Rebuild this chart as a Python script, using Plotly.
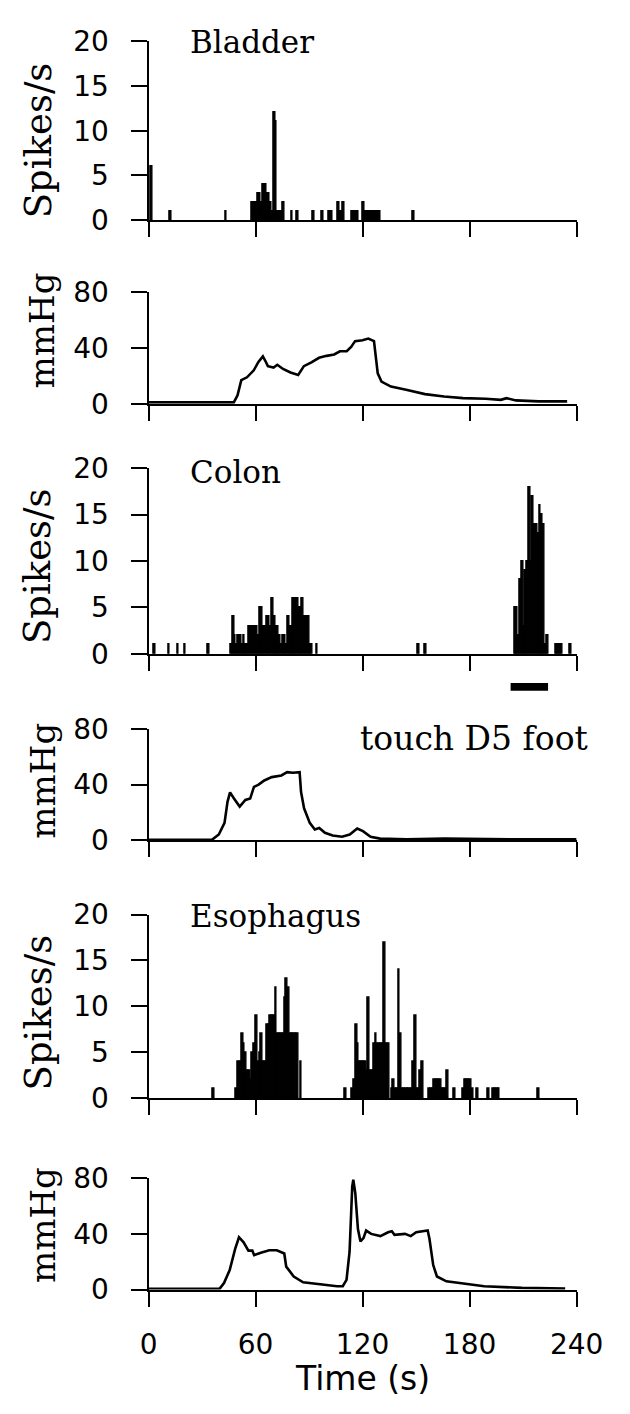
import plotly.graph_objects as go

# ---------------- data ----------------
# spike histograms: 1-s bins (bin start time in s) and spike counts
bladder_bin = [1, 12, 43, 58, 59, 60, 61, 62, 63, 64, 65, 66, 67, 68, 69, 70, 71, 72, 73, 74, 75,
               80, 83, 92, 97, 101, 102, 106, 107, 108, 109, 114, 115, 116, 117,
               120, 121, 122, 123, 124, 125, 126, 127, 128, 129, 148]
bladder_cnt = [6, 1, 1, 2, 2, 2, 3, 3, 2, 4, 4, 3, 3, 2, 1, 12, 11, 1, 1, 1, 2,
               1, 1, 1, 1, 1, 1, 2, 1, 1, 2, 1, 1, 1, 1,
               2, 1, 1, 1, 1, 1, 1, 1, 1, 1, 1]

colon_bin = [3, 11, 16, 20, 33,
             46, 47, 48, 49, 50, 51, 52, 53, 54, 55, 56, 57, 58, 59, 60, 61, 62, 63, 64, 65, 66, 67, 68,
             69, 70, 71, 72, 73, 74, 75, 76, 77, 78, 79, 80, 81, 82, 83, 84, 85, 86, 87, 88, 89, 90, 91,
             94, 151, 155,
             205, 206, 207, 208, 209, 210, 211, 212, 213, 214, 215, 216, 217, 218, 219, 220, 221, 222, 223,
             228, 229, 230, 231, 236]
colon_cnt = [1, 1, 1, 1, 1,
             1, 4, 2, 1, 2, 2, 1, 2, 1, 1, 3, 3, 3, 3, 3, 2, 5, 5, 3, 3, 4, 4, 3,
             6, 4, 3, 3, 2, 1, 2, 2, 1, 4, 3, 3, 6, 6, 6, 5, 5, 6, 4, 4, 4, 1, 1,
             1, 1, 1,
             5, 5, 2, 8, 10, 3, 9, 10, 18, 10, 17, 14, 14, 13, 16, 15, 14, 1, 2,
             1, 1, 1, 1, 1]

esoph_bin = [36,
             49, 50, 51, 52, 53, 54, 55, 56, 57, 58, 59, 60, 61, 62, 63, 64, 65, 66, 67, 68, 69, 70,
             71, 72, 73, 74, 75, 76, 77, 78, 79, 80, 81, 82, 83, 85,
             110,
             114, 115, 116, 117, 118, 119, 120, 121, 122, 123, 124, 125, 126, 127, 128, 129, 130, 131,
             132, 133, 134, 136, 137, 138, 139, 140, 141, 142, 143, 144, 145, 146, 147, 148, 149, 150,
             151, 152, 153, 157, 158, 159, 160, 161, 162, 163, 164, 165, 166, 167, 171, 176, 177, 178,
             179, 180, 181, 184, 190, 193, 194, 195, 196, 218]
esoph_cnt = [1,
             1, 4, 4, 7, 6, 5, 3, 3, 2, 5, 6, 9, 4, 5, 7, 4, 4, 8, 8, 9, 9, 9,
             12, 7, 7, 7, 7, 11, 13, 12, 7, 7, 7, 7, 7, 4,
             1,
             1, 2, 8, 6, 4, 4, 4, 4, 3, 11, 3, 3, 6, 7, 6, 6, 6, 6,
             17, 6, 6, 1, 2, 1, 1, 14, 7, 1, 1, 1, 1, 1, 1, 4, 9, 1,
             1, 3, 4, 1, 1, 1, 2, 2, 2, 2, 1, 1, 1, 3, 1, 1, 2, 2,
             2, 2, 1, 1, 1, 1, 1, 1, 1, 1]

# pressure traces (time s, mmHg)
bladder_p_t = [0, 47.8, 49.9, 52, 55.2, 59, 61.6, 64.1, 65.8, 66.9, 70.1, 72.2, 75.4, 79.6, 83.9,
               87.1, 91.3, 95.6, 99.8, 104.1, 107.3, 111.1, 113.6, 115.8, 120, 123.2, 126.4, 127.4,
               128.5, 130.6, 135.9, 144.4, 155, 165.7, 176.3, 189, 197.5, 200.7, 206, 218.8, 234.7]
bladder_p = [1, 1, 6, 17, 19, 24, 30, 34, 30, 27, 26, 28, 25, 22.5, 20.7,
             27, 29.7, 33, 34.4, 35.4, 37.7, 37.7, 40.8, 45, 45.6, 46.8, 45, 32.5,
             21.8, 15.9, 12.3, 10, 6.9, 5.2, 4, 3.6, 2.8, 4, 2.4, 1.7, 1.7]

colon_p_t = [0, 35.5, 39.4, 42.6, 44.3, 45.7, 47.9, 51.1, 54.3, 57, 59.1, 61.7, 64.9, 69.1, 74.5,
             77.7, 80.9, 84.7, 85.5, 87.2, 90.4, 93.2, 95.7, 98.9, 103.2, 108.5, 112.8, 117, 120.2,
             124.5, 129.8, 144.7, 166, 187.2, 208.5, 240]
colon_p = [0.3, 0.3, 4.2, 12.5, 27.8, 34.4, 30, 24.2, 29, 30, 38.4, 40, 43, 45.4, 46.6,
           49, 48.5, 49, 34.8, 23, 12.5, 7.8, 8.9, 5.4, 3.5, 2.6, 4.2, 8.5, 6.6,
           2.6, 1.2, 0.7, 1.2, 0.7, 0.7, 0.7]

esoph_p_t = [0, 39.8, 42.3, 45.5, 48.6, 50.7, 53.3, 56, 58.2, 59.2, 63.4, 67.7, 71.9, 76.1, 77.2,
             81.4, 86.7, 93, 99.4, 105.7, 108.9, 111, 112.7, 114.2, 114.8, 115.9, 117.4, 118.8, 120.5,
             122, 124.8, 130, 134.3, 136.4, 137.9, 143.8, 147, 150.1, 156.5, 157.5, 159.6, 161.7, 167,
             177.6, 188.2, 209.3, 233.6]
esoph_p = [0.5, 0.5, 4.7, 14, 29.4, 37.6, 34, 28, 28, 24.7, 26.6, 28.2, 28.2, 25.9, 16.5,
           9.4, 5.2, 4.2, 3.5, 2.4, 2.4, 7, 27, 74, 79, 69.4, 43.5, 34.6, 37,
           42.4, 40, 38.4, 41.2, 41.9, 39.3, 40, 38.4, 41.2, 42.4, 36.5, 17.6, 9.4, 5.9,
           4.2, 2.4, 1.2, 0.7]

stim_on, stim_off = 203, 224          # touch D5 foot (s)
spike_ticks = [0, 5, 10, 15, 20]
mmhg_ticks = [0, 40, 80]
time_ticks = [0, 60, 120, 180, 240]
organs = ["Bladder", "Colon", "Esophagus"]

# ---------------- layout geometry ----------------
W, H = 630, 1414
X0, X1 = 148, 602
# (top px, bottom px) for each panel
panels = [(26, 209), (283, 397), (463, 653), (730, 844), (920, 1108), (1190, 1304)]

def fy(px):
    return 1 - px / H

fig = go.Figure()

spike_sets = [(bladder_bin, bladder_cnt), (colon_bin, colon_cnt), (esoph_bin, esoph_cnt)]
press_sets = [(bladder_p_t, bladder_p), (colon_p_t, colon_p), (esoph_p_t, esoph_p)]

for k in range(3):
    i_sp = 2 * k + 1
    i_pr = 2 * k + 2
    b, c = spike_sets[k]
    fig.add_trace(go.Bar(x=[v + 0.5 for v in b], y=c, width=1,
                         marker=dict(color="black", line=dict(color="black", width=1.3)),
                         xaxis=f"x{i_sp}", yaxis=f"y{i_sp}", showlegend=False))
    t, p = press_sets[k]
    fig.add_trace(go.Scatter(x=t, y=p, mode="lines", line=dict(color="black", width=2.6),
                             xaxis=f"x{i_pr}", yaxis=f"y{i_pr}", showlegend=False))

tickfont = dict(family="DejaVu Sans", size=28, color="black")
layout = dict(width=W, height=H, margin=dict(l=0, r=0, t=0, b=0),
              paper_bgcolor="white", plot_bgcolor="white", bargap=0, showlegend=False)

for idx, (top, bot) in enumerate(panels):
    n = idx + 1
    is_spike = idx % 2 == 0
    layout[f"xaxis{n}"] = dict(domain=[X0 / W, X1 / W], range=[0, 240], anchor=f"y{n}",
                               showline=True, linecolor="black", linewidth=2,
                               ticks="outside", ticklen=15, tickwidth=2, tickcolor="black",
                               tickvals=time_ticks, showticklabels=(n == 6),
                               tickfont=tickfont, ticklabelstandoff=14,
                               showgrid=False, zeroline=False)
    layout[f"yaxis{n}"] = dict(domain=[fy(bot), fy(top)],
                               range=[0, 20] if is_spike else [0, 80],
                               tickvals=spike_ticks if is_spike else mmhg_ticks,
                               anchor=f"x{n}", showline=True, linecolor="black", linewidth=2,
                               ticks="outside", ticklen=16, tickwidth=2, tickcolor="black",
                               tickfont=tickfont, ticklabelstandoff=16,
                               showgrid=False, zeroline=False)

fig.update_layout(**layout)

ann = []
# y-axis titles
ytitle_centers = [127, 322, 563, 783, 1020, 1238]
for idx, yc in enumerate(ytitle_centers):
    spike = idx % 2 == 0
    ann.append(dict(text="Spikes/s" if spike else "mmHg", x=(31 if spike else 36) / W, y=fy(yc),
                    xref="paper", yref="paper", xanchor="center", yanchor="middle",
                    textangle=-90, showarrow=False,
                    font=dict(family="DejaVu Serif", size=37 if spike else 34, color="black")))
# panel titles
for org, ypx in zip(organs, [27, 467, 922]):
    ann.append(dict(text=org, x=190 / W, y=fy(ypx), xref="paper", yref="paper",
                    xanchor="left", yanchor="middle", showarrow=False,
                    font=dict(family="DejaVu Serif", size=31, color="black")))
ann.append(dict(text="touch D5 foot", x=616 / W, y=fy(740), xref="paper", yref="paper",
                xanchor="right", yanchor="middle", showarrow=False,
                font=dict(family="DejaVu Serif", size=33, color="black")))
ann.append(dict(text="Time (s)", x=(X0 + X1) / 2 / W, y=fy(1395), xref="paper", yref="paper",
                xanchor="center", yanchor="middle", showarrow=False,
                font=dict(family="DejaVu Sans", size=33, color="black")))
fig.update_layout(annotations=ann)

# stimulus bar (touch D5 foot)
fig.add_shape(type="rect", xref="x3", yref="paper", x0=stim_on, x1=stim_off,
              y0=fy(691), y1=fy(683), fillcolor="black", line=dict(width=0))

fig.write_html("out.html")
